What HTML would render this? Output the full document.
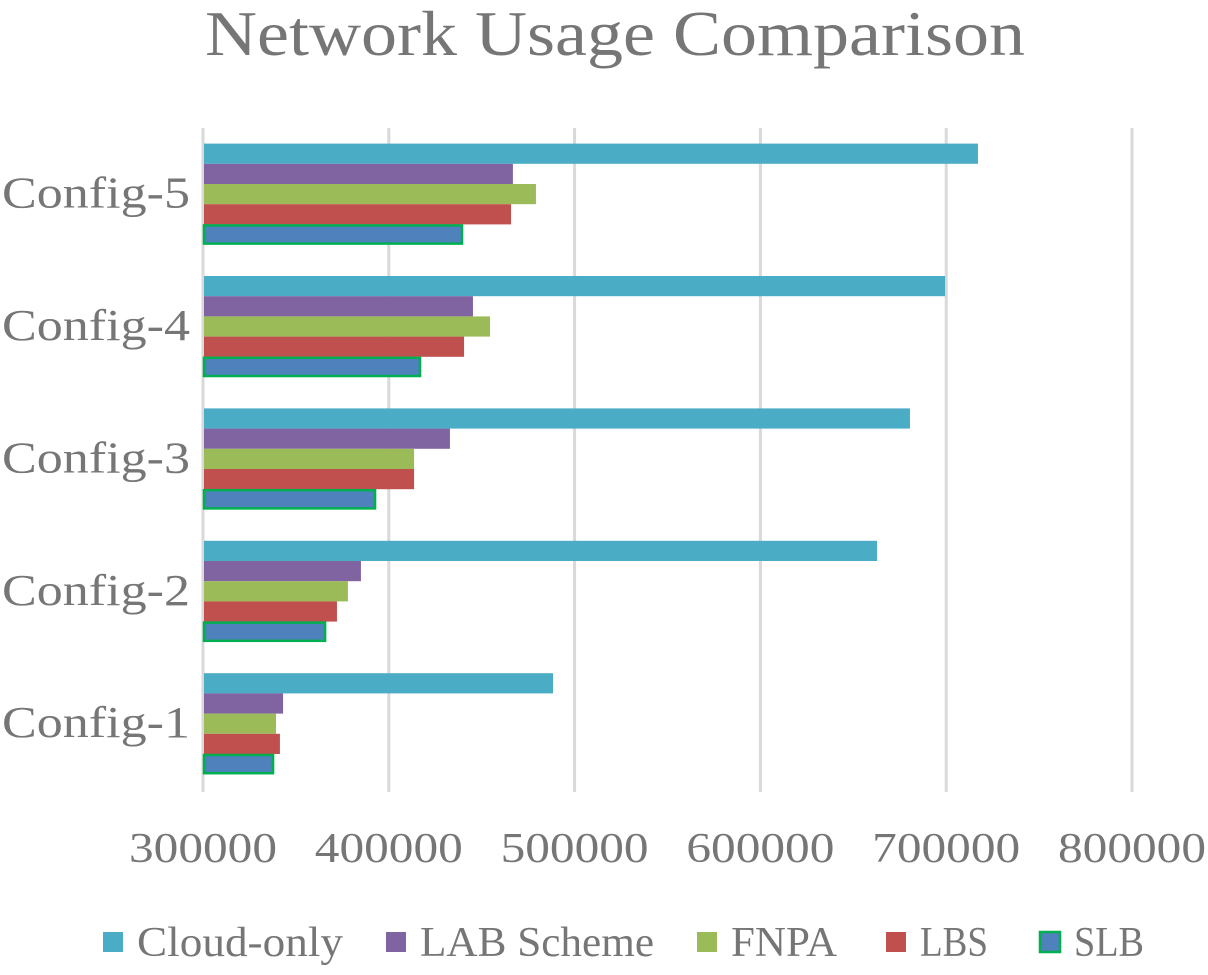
<!DOCTYPE html>
<html><head><meta charset="utf-8"><style>
body{margin:0;background:#fff;}
svg text{font-family:"Liberation Serif",serif;fill:#767676;}
</style></head><body>
<svg id="chart" width="1208" height="970">
<text x="205" y="55" font-size="64" textLength="820" lengthAdjust="spacingAndGlyphs">Network Usage Comparison</text>
<g id="grid"></g><g id="bars"></g><g id="labels"></g><g id="legend"></g>
</svg>
<script>
const categories=["Config-1","Config-2","Config-3","Config-4","Config-5"];
const seriesNames=["Cloud-only","LAB Scheme","FNPA","LBS","SLB"];
const cloudOnly=[488400,662800,680500,699400,717100];
const labScheme=[343100,385000,432900,445300,466800];
const fnpa=[339300,378000,413600,454500,479200];
const lbs=[341400,372100,413600,440500,465800];
const slb=[337700,365700,392600,416800,439400];
const ticks=[300000,400000,500000,600000,700000,800000];
const colors=["#4bacc6","#8064a2","#9bbb59","#c0504d","#4f81bd"];
const series=[cloudOnly,labScheme,fnpa,lbs,slb];
const NS="http://www.w3.org/2000/svg";
const x0=203,pxPer=929/500000,plotTop=128,band=132.4,barH=20.2;
const xs=v=>x0+(v-300000)*pxPer;
function mk(t,a,p){const e=document.createElementNS(NS,t);for(const k in a)e.setAttribute(k,a[k]);p.appendChild(e);return e;}
const grid=document.getElementById('grid'),bars=document.getElementById('bars'),labels=document.getElementById('labels'),legend=document.getElementById('legend');
ticks.forEach(t=>{
 const l=mk('line',{x1:xs(t),x2:xs(t),y1:plotTop,y2:792,stroke:'#d9d9d9','stroke-width':3},grid);
 
 
 const tx=mk('text',{x:xs(t)-74,y:862,'font-size':42,textLength:148,lengthAdjust:'spacingAndGlyphs'},labels);
 tx.textContent=t;
 
 
});
categories.forEach((c,i)=>{
 const gTop=plotTop+(categories.length-1-i)*band+15.6;
 const tx=mk('text',{x:2,y:gTop+64,'font-size':44,textLength:188,lengthAdjust:'spacingAndGlyphs'},labels);
 tx.textContent=c;
 
 
 series.forEach((s,j)=>{
  const attrs={x:x0+1,y:gTop+j*barH,width:xs(s[i])-x0-1,height:barH,fill:colors[j]};
  if(j===4){attrs.stroke='#00b050';attrs['stroke-width']=2.5;attrs.y+=1;attrs.height-=2;}
  const r=mk('rect',attrs,bars);
  
  
 });
});
const lx=[103,386,697,886,1040];
const lw=[206,234,106,68,70];
seriesNames.forEach((n,j)=>{
 const g=mk('g',{},legend);
 
 
 const a={x:lx[j],y:932,width:20,height:20,fill:colors[j]};
 if(j===4){a.stroke='#00b050';a['stroke-width']=2.5;}
 mk('rect',a,g);
 const t=mk('text',{x:lx[j]+34,y:956,'font-size':42,textLength:lw[j],lengthAdjust:'spacingAndGlyphs'},g);t.textContent=n;
});
</script>
</body></html>
